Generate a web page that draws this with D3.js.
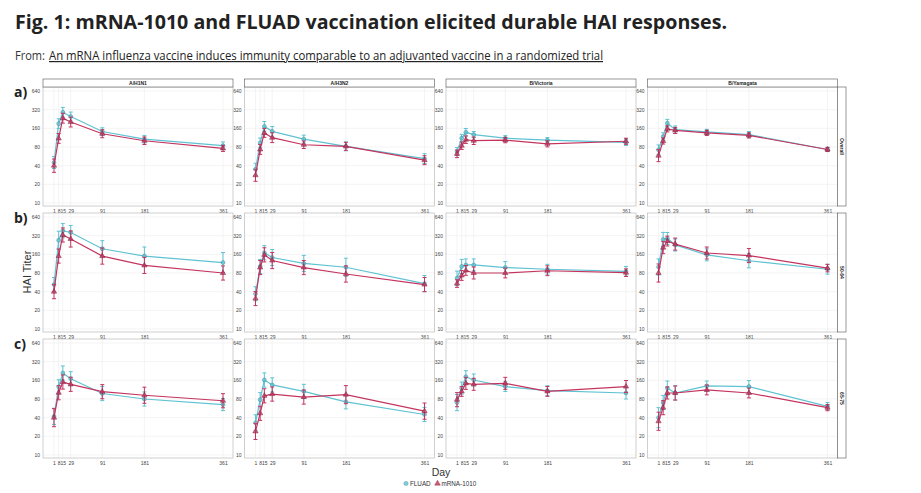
<!DOCTYPE html>
<html>
<head>
<meta charset="utf-8">
<script src="https://cdn.jsdelivr.net/npm/d3@7"></script>
<style>
  body { margin: 0; background: #fff; }
  svg { display: block; font-family: 'Open Sans', 'Liberation Sans', sans-serif; }
</style>
</head>
<body>
<svg id="chart" width="921" height="493"></svg>
<script>
const days = [1, 8, 15, 29, 91, 181, 361];
const strains = ['A/H1N1', 'A/H3N2', 'B/Victoria', 'B/Yamagata'];
const ageGroups = ['Overall', '50-64', '65-75'];
const rowLabels = ['a)', 'b)', 'c)'];
const yTicks = [10, 20, 40, 80, 160, 320, 640];
const seriesNames = ['FLUAD', 'mRNA-1010'];

// GMT, [age group][strain][day]
const fluadGmt = [
  [[45, 190, 290, 248, 142, 107, 84], [35, 93, 172, 143, 107, 82, 52], [68, 111, 138, 127, 111, 103, 95], [72, 118, 194, 152, 140, 127, 73]],
  [[52, 270, 385, 360, 197, 150, 118], [37, 102, 170, 142, 114, 99, 54], [66, 102, 108, 108, 98, 92, 85], [100, 278, 288, 226, 157, 126, 92]],
  [[42, 126, 210, 170, 98, 80, 65], [33, 78, 162, 135, 106, 72, 45], [70, 120, 183, 162, 127, 109, 100], [40, 70, 120, 100, 130, 127, 61]]
];
const mrnaGmt = [
  [[40, 110, 233, 202, 131, 101, 76], [28, 73, 135, 113, 87, 82, 49], [62, 84, 105, 101, 103, 90, 99], [58, 100, 157, 148, 135, 123, 73]],
  [[40, 150, 328, 283, 150, 106, 80], [31, 98, 157, 127, 98, 77, 52], [54, 73, 88, 80, 80, 87, 81], [80, 205, 262, 234, 168, 153, 96]],
  [[40, 101, 150, 138, 105, 92, 75], [24, 47, 90, 96, 86, 94, 51], [78, 106, 143, 138, 143, 106, 127], [35, 58, 100, 100, 112, 100, 58]]
];
// 95% CI as a fold around the GMT (lo = gmt / fold, hi = gmt * fold)
const fluadFold = [
  [[1.25, 1.2, 1.2, 1.18, 1.15, 1.15, 1.15], [1.25, 1.2, 1.2, 1.2, 1.16, 1.18, 1.2], [1.15, 1.15, 1.15, 1.12, 1.1, 1.1, 1.12], [1.2, 1.15, 1.15, 1.15, 1.1, 1.12, 1.08]],
  [[1.3, 1.4, 1.3, 1.3, 1.35, 1.4, 1.45], [1.3, 1.3, 1.3, 1.35, 1.35, 1.4, 1.35], [1.3, 1.3, 1.25, 1.25, 1.25, 1.2, 1.2], [1.35, 1.3, 1.25, 1.25, 1.25, 1.3, 1.2]],
  [[1.35, 1.3, 1.3, 1.3, 1.3, 1.3, 1.25], [1.35, 1.3, 1.3, 1.3, 1.3, 1.3, 1.3], [1.35, 1.25, 1.25, 1.25, 1.2, 1.2, 1.25], [1.45, 1.3, 1.3, 1.3, 1.2, 1.25, 1.15]]
];
const mrnaFold = [
  [[1.28, 1.2, 1.2, 1.2, 1.16, 1.15, 1.12], [1.25, 1.2, 1.18, 1.2, 1.15, 1.16, 1.18], [1.15, 1.15, 1.15, 1.15, 1.1, 1.12, 1.12], [1.25, 1.12, 1.12, 1.12, 1.1, 1.1, 1.08]],
  [[1.3, 1.3, 1.3, 1.35, 1.35, 1.35, 1.3], [1.3, 1.3, 1.3, 1.35, 1.3, 1.35, 1.3], [1.15, 1.2, 1.2, 1.25, 1.2, 1.2, 1.15], [1.4, 1.25, 1.2, 1.25, 1.25, 1.3, 1.15]],
  [[1.4, 1.3, 1.3, 1.3, 1.3, 1.35, 1.3], [1.35, 1.3, 1.3, 1.3, 1.3, 1.4, 1.35], [1.3, 1.2, 1.25, 1.25, 1.25, 1.2, 1.25], [1.4, 1.3, 1.25, 1.3, 1.2, 1.2, 1.12]]
];

const colors = { FLUAD: '#5ec2d2', 'mRNA-1010': '#c4345e' };
const strokes = { FLUAD: '#3f8899', 'mRNA-1010': '#7a2040' };

const svg = d3.select('#chart');

// header
svg.append('text')
  .attr('x', 15).attr('y', 29)
  .attr('font-size', 20).attr('font-weight', 700).attr('fill', '#222')
  .attr('textLength', 712).attr('lengthAdjust', 'spacingAndGlyphs')
  .text('Fig. 1: mRNA-1010 and FLUAD vaccination elicited durable HAI responses.');

svg.append('text')
  .attr('x', 15).attr('y', 60)
  .attr('font-size', 12).attr('fill', '#333')
  .attr('textLength', 30).attr('lengthAdjust', 'spacingAndGlyphs')
  .text('From:');
svg.append('text')
  .attr('x', 49).attr('y', 60)
  .attr('font-size', 12).attr('fill', '#222')
  .attr('textLength', 554).attr('lengthAdjust', 'spacingAndGlyphs')
  .style('text-decoration', 'underline')
  .text('An mRNA influenza vaccine induces immunity comparable to an adjuvanted vaccine in a randomized trial');

const colX = [43, 244.5, 446, 647.5];
const rowY = [87, 213, 339];
const panelW = 190, panelH = 119;

const series = [
  { name: 'FLUAD', gmt: fluadGmt, fold: fluadFold },
  { name: 'mRNA-1010', gmt: mrnaGmt, fold: mrnaFold }
];

ageGroups.forEach((grp, r) => {
  const top = rowY[r];

  svg.append('text')
    .attr('x', 14).attr('y', top + 10)
    .attr('font-size', 14).attr('font-weight', 700).attr('fill', '#222')
    .text(rowLabels[r]);

  strains.forEach((strain, c) => {
    const left = colX[c];
    const x = d3.scalePow().exponent(0.9).domain([1, 361]).range([left + 11, left + panelW - 10]);
    const y = d3.scaleLog().base(2).domain([10, 640]).range([top + panelH - 3, top + 4]);

    const g = svg.append('g');

    g.append('rect')
      .attr('x', left).attr('y', top)
      .attr('width', panelW).attr('height', panelH)
      .attr('fill', '#fff');

    // grid
    g.selectAll('.gy').data(yTicks).join('line')
      .attr('x1', left).attr('x2', left + panelW)
      .attr('y1', d => y(d)).attr('y2', d => y(d))
      .attr('stroke', '#ededed').attr('stroke-width', 0.6);
    g.selectAll('.gx').data(days).join('line')
      .attr('x1', d => x(d)).attr('x2', d => x(d))
      .attr('y1', top).attr('y2', top + panelH)
      .attr('stroke', '#ededed').attr('stroke-width', 0.6);

    g.append('rect')
      .attr('x', left).attr('y', top)
      .attr('width', panelW).attr('height', panelH)
      .attr('fill', 'none').attr('stroke', '#c4c4c4').attr('stroke-width', 0.8);

    // axes
    const yAxis = d3.axisLeft(y).tickValues(yTicks).tickSize(0).tickPadding(3).tickFormat(d3.format('d'));
    const ya = g.append('g').attr('transform', `translate(${left},0)`).call(yAxis);
    ya.select('.domain').remove();
    ya.selectAll('text').attr('font-size', 5).attr('fill', '#444').attr('font-family', 'Liberation Sans, sans-serif');

    const xAxis = d3.axisBottom(x).tickValues(days).tickSize(0).tickPadding(3).tickFormat(d3.format('d'));
    const xa = g.append('g').attr('transform', `translate(0,${top + panelH})`).call(xAxis);
    xa.select('.domain').remove();
    xa.selectAll('text').attr('font-size', 5).attr('fill', '#444').attr('font-family', 'Liberation Sans, sans-serif');

    // series
    series.forEach(s => {
      const pts = days.map((d, i) => ({
        d, v: s.gmt[r][c][i],
        lo: s.gmt[r][c][i] / s.fold[r][c][i],
        hi: s.gmt[r][c][i] * s.fold[r][c][i]
      }));
      const col = colors[s.name];

      g.append('path')
        .datum(pts)
        .attr('d', d3.line().x(p => x(p.d)).y(p => y(p.v)))
        .attr('fill', 'none').attr('stroke', col).attr('stroke-width', 1.2);

      const eb = g.append('g').attr('stroke', col).attr('stroke-width', 1);
      eb.selectAll('.v').data(pts).join('line')
        .attr('x1', p => x(p.d)).attr('x2', p => x(p.d))
        .attr('y1', p => y(p.lo)).attr('y2', p => y(p.hi));
      eb.selectAll('.t').data(pts).join('line')
        .attr('x1', p => x(p.d) - 2).attr('x2', p => x(p.d) + 2)
        .attr('y1', p => y(p.hi)).attr('y2', p => y(p.hi));
      eb.selectAll('.b').data(pts).join('line')
        .attr('x1', p => x(p.d) - 2).attr('x2', p => x(p.d) + 2)
        .attr('y1', p => y(p.lo)).attr('y2', p => y(p.lo));

      const sym = d3.symbol().type(s.name === 'FLUAD' ? d3.symbolCircle : d3.symbolTriangle).size(12);
      g.selectAll('.m').data(pts).join('path')
        .attr('transform', p => `translate(${x(p.d)},${y(p.v)})`)
        .attr('d', sym)
        .attr('fill', col).attr('fill-opacity', 0.75)
        .attr('stroke', strokes[s.name]).attr('stroke-width', 0.5);
    });

    // top strip
    if (r === 0) {
      g.append('rect')
        .attr('x', left).attr('y', top - 8)
        .attr('width', panelW).attr('height', 8)
        .attr('fill', '#fff').attr('stroke', '#555').attr('stroke-width', 0.6);
      g.append('text')
        .attr('x', left + panelW / 2).attr('y', top - 2.3)
        .attr('text-anchor', 'middle')
        .attr('font-size', 5).attr('font-weight', 700).attr('fill', '#222')
        .attr('font-family', 'Liberation Sans, sans-serif')
        .text(strain);
    }
    // right strip
    if (c === strains.length - 1) {
      const sx = left + panelW;
      g.append('rect')
        .attr('x', sx).attr('y', top)
        .attr('width', 8.5).attr('height', panelH)
        .attr('fill', '#fff').attr('stroke', '#555').attr('stroke-width', 0.6);
      g.append('text')
        .attr('transform', `translate(${sx + 2.6},${top + panelH / 2}) rotate(90)`)
        .attr('text-anchor', 'middle')
        .attr('font-size', 5).attr('font-weight', 700).attr('fill', '#222')
        .attr('font-family', 'Liberation Sans, sans-serif')
        .text(grp);
    }
  });
});

// axis titles
svg.append('text')
  .attr('transform', 'translate(31,272) rotate(-90)')
  .attr('text-anchor', 'middle')
  .attr('font-size', 11).attr('fill', '#333')
  .attr('font-family', 'Liberation Sans, sans-serif')
  .text('HAI Titer');
svg.append('text')
  .attr('x', 441).attr('y', 476)
  .attr('text-anchor', 'middle')
  .attr('font-size', 10.5).attr('fill', '#333')
  .attr('font-family', 'Liberation Sans, sans-serif')
  .text('Day');

// legend
const leg = svg.append('g').attr('transform', 'translate(406,483.5)');
const legItems = [
  { name: seriesNames[0], dx: 0 },
  { name: seriesNames[1], dx: 31.5 }
];
legItems.forEach(it => {
  const sym = d3.symbol().type(it.name === 'FLUAD' ? d3.symbolCircle : d3.symbolTriangle).size(14);
  leg.append('path')
    .attr('transform', `translate(${it.dx},0)`)
    .attr('d', sym)
    .attr('fill', colors[it.name]).attr('fill-opacity', 0.8)
    .attr('stroke', strokes[it.name]).attr('stroke-width', 0.4);
  leg.append('text')
    .attr('x', it.dx + 4).attr('y', 2.3)
    .attr('font-size', 6.3).attr('fill', '#333')
    .attr('font-family', 'Liberation Sans, sans-serif')
    .text(it.name);
});
</script>
</body>
</html>
